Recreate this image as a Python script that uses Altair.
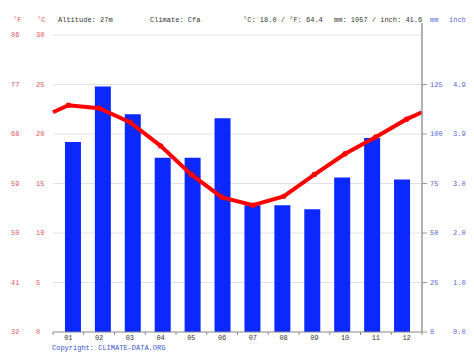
import altair as alt
import pandas as pd

months = list(range(1, 13))
month_labels = ["01", "02", "03", "04", "05", "06", "07", "08", "09", "10", "11", "12"]
precip_mm = [96, 124, 110, 88, 88, 108, 64, 64, 62, 78, 98, 77]
temp_c = [22.9, 22.6, 21.2, 18.8, 15.9, 13.6, 12.8, 13.7, 15.9, 18.0, 19.7, 21.5]
edge_temp = 22.2  # line value read at the left/right edges (Dec-Jan wrap)

c_ticks = [0, 5, 10, 15, 20, 25, 30]
f_labels = ["32", "41", "50", "59", "68", "77", "86"]
mm_ticks = [0, 25, 50, 75, 100, 125]
inch_labels = ["0.0", "1.0", "2.0", "3.0", "3.9", "4.9"]
boundaries = [0.5, 1.5, 2.5, 3.5, 4.5, 5.5, 6.5, 7.5, 8.5, 9.5, 10.5, 11.5, 12.5]

header_texts = ["°F", "°C", "Altitude: 27m", "Climate: Cfa", "°C: 18.0 / °F: 64.4",
                "mm: 1057 / inch: 41.6"]
header_px = [-40, -16, 5, 97, 190, 281]
unit_texts = ["mm", "inch"]
unit_px = [377, 396]

W, H = 369, 297
FONT = "Liberation Mono"
FS = 7
RED = "#ff0000"
BLUE = "#0a28ff"
LRED = "#e05858"
LBLUE = "#5566d6"

xs = alt.Scale(domain=[0.5, 12.5], nice=False, zero=False)
cs = alt.Scale(domain=[0, 30], nice=False, zero=False)
ms = alt.Scale(domain=[0, 150], nice=False, zero=False)

df = pd.DataFrame({"month": months, "label": month_labels, "mm": precip_mm, "c": temp_c})
line_df = pd.DataFrame({"month": [0.5] + months + [12.5], "c": [edge_temp] + temp_c + [edge_temp]})
cdf = pd.DataFrame({"c": c_ticks, "f": f_labels, "cl": [str(v) for v in c_ticks]})
mdf = pd.DataFrame({"mm": mm_ticks, "ml": [str(v) for v in mm_ticks], "inch": inch_labels})
bdf = pd.DataFrame({"b": boundaries})
hdf = pd.DataFrame({"t": header_texts, "px": header_px})
udf = pd.DataFrame({"t": unit_texts, "px": unit_px})

grid = alt.Chart(cdf[cdf.c > 0]).mark_rule(color="#e2e2e2", strokeWidth=1).encode(
    x=alt.value(0), x2=alt.value(W), y=alt.Y("c:Q", scale=cs, axis=None))

bars = alt.Chart(df).mark_bar(color=BLUE, size=16).encode(
    x=alt.X("month:Q", scale=xs, axis=None),
    y=alt.Y("mm:Q", scale=ms, axis=None))

line = alt.Chart(line_df).mark_line(color=RED, strokeWidth=4).encode(
    x=alt.X("month:Q", scale=xs, axis=None),
    y=alt.Y("c:Q", scale=cs, axis=None))

pts = alt.Chart(df).mark_circle(color=RED, size=30, opacity=1).encode(
    x=alt.X("month:Q", scale=xs, axis=None),
    y=alt.Y("c:Q", scale=cs, axis=None))

bottom = alt.Chart(cdf[cdf.c == 0]).mark_rule(color="#888", strokeWidth=1).encode(
    x=alt.value(0), x2=alt.value(W), y=alt.value(H))

xticks = alt.Chart(bdf).mark_rule(color="#888", strokeWidth=1).encode(
    x=alt.X("b:Q", scale=xs, axis=None), y=alt.value(H), y2=alt.value(H + 3))

xlabels = alt.Chart(df).mark_text(font=FONT, fontSize=FS, color="#333", baseline="middle").encode(
    x=alt.X("month:Q", scale=xs, axis=None), y=alt.value(H + 6), text="label:N")

right_axis = alt.Chart(cdf[cdf.c == 0]).mark_rule(color="#999", strokeWidth=1.5).encode(
    x=alt.value(W), y=alt.value(-12), y2=alt.value(H))

right_ticks = alt.Chart(mdf).mark_rule(color="#999", strokeWidth=1).encode(
    x=alt.value(W), x2=alt.value(W + 5), y=alt.Y("mm:Q", scale=ms, axis=None))

f_text = alt.Chart(cdf).mark_text(font=FONT, fontSize=FS, color=LRED, align="left", baseline="middle").encode(
    x=alt.value(-42), y=alt.Y("c:Q", scale=cs, axis=None), text="f:N")
c_text = alt.Chart(cdf).mark_text(font=FONT, fontSize=FS, color=LRED, align="left", baseline="middle").encode(
    x=alt.value(-17), y=alt.Y("c:Q", scale=cs, axis=None), text="cl:N")
mm_text = alt.Chart(mdf).mark_text(font=FONT, fontSize=FS, color=LBLUE, align="left", baseline="middle").encode(
    x=alt.value(377), y=alt.Y("mm:Q", scale=ms, axis=None), text="ml:N")
in_text = alt.Chart(mdf).mark_text(font=FONT, fontSize=FS, color=LBLUE, align="left", baseline="middle").encode(
    x=alt.value(400), y=alt.Y("mm:Q", scale=ms, axis=None), text="inch:N")

hdr_colors = ["#e05858", "#e05858", "#333", "#333", "#333", "#333"]
hdf["col"] = hdr_colors
header = alt.Chart(hdf).mark_text(font=FONT, fontSize=FS, align="left", baseline="middle").encode(
    x=alt.X("px:Q", scale=None), y=alt.value(-15), text="t:N",
    color=alt.Color("col:N", scale=None))
units = alt.Chart(udf).mark_text(font=FONT, fontSize=FS, align="left", baseline="middle", color=LBLUE).encode(
    x=alt.X("px:Q", scale=None), y=alt.value(-15), text="t:N")

copyright_df = pd.DataFrame({"t": ["Copyright: CLIMATE-DATA.ORG"]})
copyright = alt.Chart(copyright_df).mark_text(font=FONT, fontSize=FS, align="left", baseline="middle",
                                              color="#3a55c8").encode(
    x=alt.value(-1), y=alt.value(H + 16), text="t:N")

chart = alt.layer(
    grid, bars, line, pts, bottom, xticks, xlabels, right_axis, right_ticks,
    f_text, c_text, mm_text, in_text, header, units, copyright
).resolve_scale(y="independent", x="independent").properties(
    width=W, height=H,
    autosize=alt.AutoSizeParams(type="none"),
    padding={"left": 45, "top": 27, "right": 44, "bottom": 20},
).configure_view(stroke=None)

chart.save("out.html", embed_options={"renderer": "svg", "actions": False})
